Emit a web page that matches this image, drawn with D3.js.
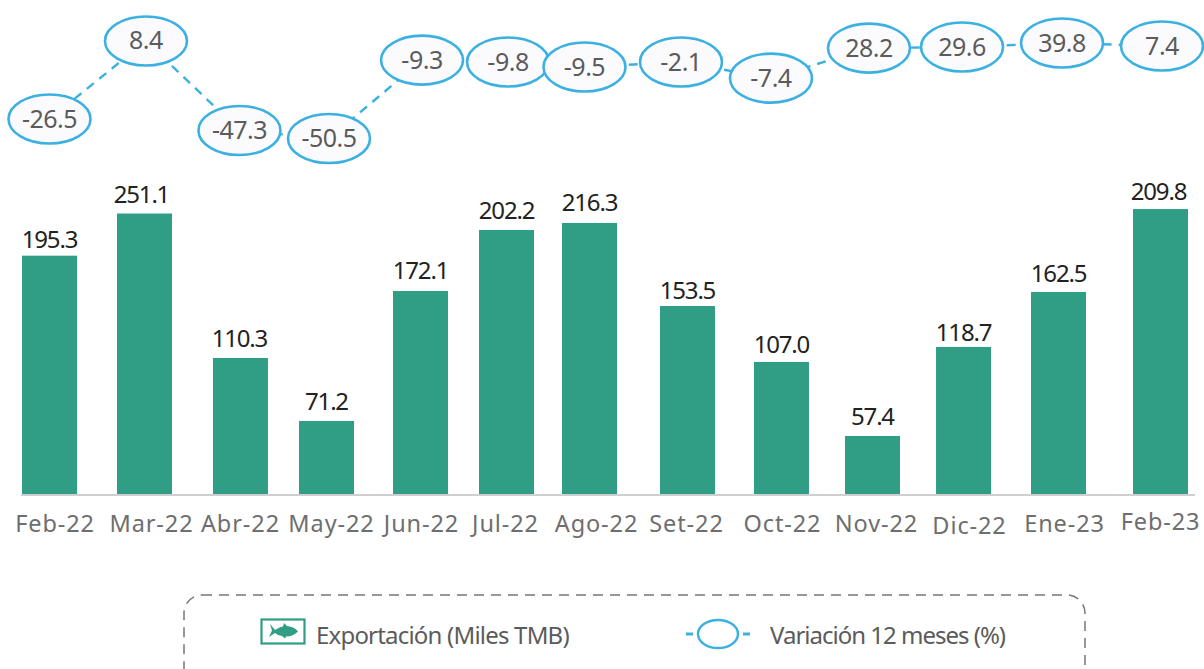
<!DOCTYPE html>
<html><head><meta charset="utf-8">
<script src="https://cdn.jsdelivr.net/npm/d3@7"></script>
<style>
html,body{margin:0;padding:0;background:#fff}
svg{display:block}
text{font-family:"Noto Sans",sans-serif}
</style></head><body>
<svg id="c" width="1204" height="669"></svg>
<script>
// ---- data ----
const categories = ["Feb-22","Mar-22","Abr-22","May-22","Jun-22","Jul-22","Ago-22","Set-22","Oct-22","Nov-22","Dic-22","Ene-23","Feb-23"];
const exportLabels = [195.3,251.1,110.3,71.2,172.1,202.2,216.3,153.5,107.0,57.4,118.7,162.5,209.8];
// The printed bars are not strictly proportional to their labels; these are the drawn lengths, read on the label scale.
const exportDrawn = [193,227,110.5,59.7,164.5,213.7,219.4,152.4,107.3,47.6,119.4,163.7,230.6];
const variation = [-26.5,8.4,-47.3,-50.5,-9.3,-9.8,-9.5,-2.1,-7.4,28.2,29.6,39.8,7.4];

// ---- hand-placed layout of the original infographic (offsets from the scales) ----
const barDx = [0,2.4,5.8,-.75,.67,-5.9,-15.5,-10.1,-8.7,-10.25,-11.8,-9.4,0];
const labelDx = [0,-3,-1,0,0,0,0,0,0,0,0,0,-2];
const labelDy = [0,-3,-3,-3,-4,-3,-4,1,-1,-3,2,-2,-1];
const tickDx = [5,6.5,-.5,4.5,.5,-1.5,6.5,-1.5,.5,3.5,5.5,5.5,-.5];
const tickDy = [0,0,0,0,0,0,0,0,0,0,2,0,-2];
const ovalDx = [0,3.9,4.8,1.75,2.2,-4.4,-20.5,-16.6,-19.2,-13.75,-13.3,-5.9,1.5];
const ovalDy = [7,-34.7,-3.2,1.5,-34,-32.6,-27.3,-24.6,-14,-7,-6.6,0,-30.7];

const svg = d3.select("#c");
const BLUE = "#3cb1e1", GREEN = "#2f9e85", GREY = "#5b5b5b";

const x = d3.scalePoint().domain(categories).range([49.5,1160.5]);
const y = d3.scaleLinear().domain([0,240]).range([495,197.4]);
const yVar = d3.scaleLinear().domain([-50.5,39.8]).range([137,43]);
const barW = 55;

// bars
svg.append("g").selectAll("rect").data(categories).join("rect")
  .attr("x",(d,i)=>x(d)+barDx[i]-barW/2)
  .attr("y",(d,i)=>y(exportDrawn[i]))
  .attr("width",barW)
  .attr("height",(d,i)=>y(0)-y(exportDrawn[i]))
  .attr("fill",GREEN);

// baseline
svg.append("line").attr("x1",21).attr("x2",1195).attr("y1",495).attr("y2",495)
  .attr("stroke","#cfcfcf").attr("stroke-width",2);

// bar labels
svg.append("g").selectAll("text").data(categories).join("text")
  .attr("x",(d,i)=>x(d)+barDx[i]+labelDx[i])
  .attr("y",(d,i)=>y(exportDrawn[i])-8+labelDy[i])
  .attr("text-anchor","middle").attr("font-size",24).attr("letter-spacing",-1.2)
  .attr("fill","#222")
  .text((d,i)=>exportLabels[i].toFixed(1));

// category axis
const xTicks = d3.scaleOrdinal().domain(categories).range(categories.map((d,i)=>x(d)+barDx[i]+tickDx[i]));
const axis = svg.append("g").attr("transform","translate(0,495)")
  .call(d3.axisBottom(xTicks).tickSize(0).tickPadding(0));
axis.select(".domain").remove();
axis.selectAll("text")
  .attr("y",(d,i)=>37+tickDy[i]).attr("dy",0)
  .attr("font-size",23.5).attr("font-family",'"Noto Sans",sans-serif').attr("font-weight",400)
  .attr("letter-spacing",.9).attr("fill","#6e6e6e");

// variation series
const pts = categories.map((d,i)=>({
  cx:x(d)+ovalDx[i], cy:yVar(variation[i])+ovalDy[i], v:variation[i]
}));
svg.append("path").attr("d",d3.line().x(d=>d.cx).y(d=>d.cy)(pts))
  .attr("fill","none").attr("stroke",BLUE).attr("stroke-width",2.4).attr("stroke-dasharray","9 7");
const g = svg.append("g").selectAll("g").data(pts).join("g");
g.append("ellipse").attr("cx",d=>d.cx).attr("cy",d=>d.cy).attr("rx",41).attr("ry",24.5)
  .attr("fill","#fbfbfe").attr("stroke",BLUE).attr("stroke-width",2.6);
g.append("text").attr("x",d=>d.cx).attr("y",d=>d.cy+8.5)
  .attr("text-anchor","middle").attr("font-size",25).attr("letter-spacing",-.5).attr("fill",GREY)
  .text(d=>d.v.toFixed(1));

// legend frame
svg.append("rect").attr("x",184).attr("y",595).attr("width",901).attr("height",110).attr("rx",18)
  .attr("fill","none").attr("stroke","#777").attr("stroke-width",1.5).attr("stroke-dasharray","10 7");

// legend: export key
svg.append("rect").attr("x",261.5).attr("y",619.5).attr("width",43).attr("height",24)
  .attr("fill","#fff").attr("stroke",GREEN).attr("stroke-width",2.2);
svg.append("path").attr("fill",GREEN)
  .attr("d","M270 624l5 6c2-1.5 5-3 8-3.5l1-3.5 3 3c5 .5 9 2.5 11 5.5-3 3-7 5-12 5l-1 2-3-2.500c-3-.5-5-1.500-7-3l-6 4 3-6.500z");
svg.append("text").attr("x",316).attr("y",644).attr("font-size",24).attr("letter-spacing",-.8)
  .attr("fill",GREY).text("Exportación (Miles TMB)");

// legend: variation key
svg.append("line").attr("x1",686).attr("x2",750).attr("y1",634).attr("y2",634)
  .attr("stroke",BLUE).attr("stroke-width",3).attr("stroke-dasharray","7 6 38 6 7");
svg.append("ellipse").attr("cx",718).attr("cy",634).attr("rx",20).attr("ry",14)
  .attr("fill","#fff").attr("stroke",BLUE).attr("stroke-width",2.4);
svg.append("text").attr("x",770).attr("y",644).attr("font-size",24).attr("letter-spacing",-1)
  .attr("fill",GREY).text("Variación 12 meses (%)");
</script>
</body></html>
